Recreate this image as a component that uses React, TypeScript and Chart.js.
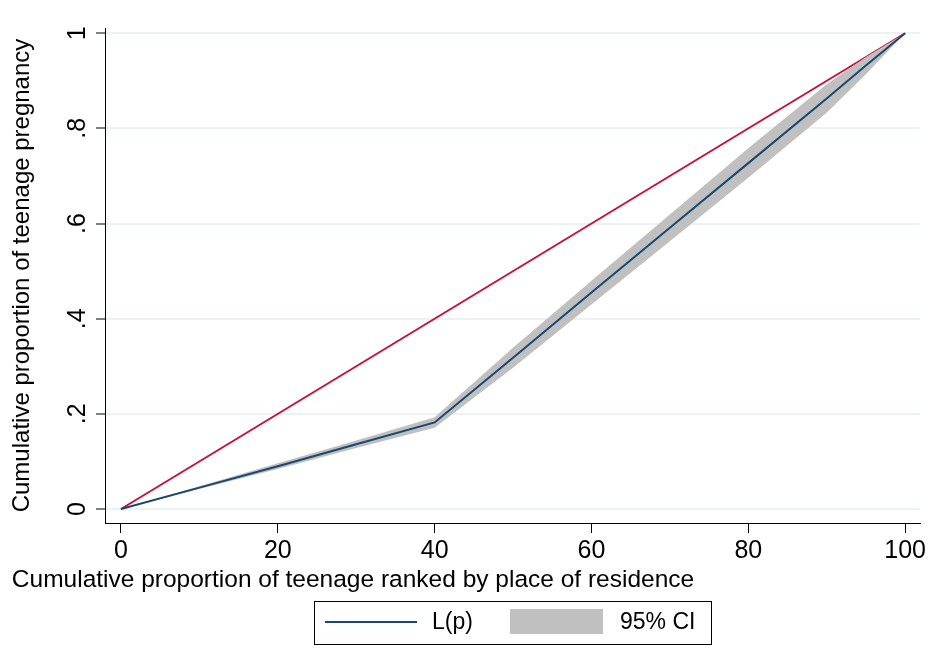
import React, { useEffect, useRef } from "react";
import { Chart, registerables } from "chart.js";

Chart.register(...registerables);

// ---- data ----
const pX = [0, 10, 20, 30, 40, 50, 60, 70, 80, 90, 95, 100];
const lpY = [0, 0.045, 0.09, 0.136, 0.182, 0.318, 0.455, 0.591, 0.727, 0.863, 0.932, 1];
const ciLow = [0, 0.042, 0.084, 0.128, 0.171, 0.297, 0.43, 0.563, 0.696, 0.833, 0.914, 1];
const ciHigh = [0, 0.048, 0.096, 0.144, 0.193, 0.339, 0.48, 0.619, 0.758, 0.893, 0.95, 1];
const eqX = [0, 100];
const eqY = [0, 1];
const xTicks = [0, 20, 40, 60, 80, 100];
const yTicks = [0, 0.2, 0.4, 0.6, 0.8, 1];
const yTickLabels = ["0", ".2", ".4", ".6", ".8", "1"];
const xTitle = "Cumulative proportion of teenage ranked by place of residence";
const yTitle = "Cumulative proportion of teenage pregnancy";
const legendLabels = ["L(p)", "95% CI"];

const NAVY = "#1a476f";
const RED = "#c8103c";
const GRAY = "#c0c0c0";
const GRID = "#eaf2f3";
const FONT = "'Liberation Sans', Arial, sans-serif";

const pts = (xs: number[], ys: number[]) => xs.map((x, i) => ({ x, y: ys[i] }));

const overlay = {
  id: "overlay",
  afterDraw(chart: any) {
    const ctx = chart.ctx as CanvasRenderingContext2D;
    const ys = chart.scales.y;
    const area = chart.chartArea;
    ctx.save();
    ctx.fillStyle = "#000";
    // y tick labels, rotated
    ctx.font = `25px ${FONT}`;
    ctx.textAlign = "center";
    ctx.textBaseline = "middle";
    yTicks.forEach((v, i) => {
      const py = ys.getPixelForValue(v);
      ctx.save();
      ctx.translate(77, py);
      ctx.rotate(-Math.PI / 2);
      ctx.fillText(yTickLabels[i], 0, 1);
      ctx.restore();
    });
    // y title
    ctx.font = `24px ${FONT}`;
    ctx.save();
    ctx.translate(22, (area.top + area.bottom) / 2);
    ctx.rotate(-Math.PI / 2);
    ctx.fillText(yTitle, 0, 0);
    ctx.restore();
    // x title
    ctx.font = `24.5px ${FONT}`;
    ctx.textBaseline = "alphabetic";
    ctx.fillText(xTitle, 353, 587);
    // legend
    const bx = 314.5, by = 601.5, bw = 397, bh = 43;
    ctx.fillStyle = "#fff";
    ctx.fillRect(bx, by, bw, bh);
    ctx.strokeStyle = "#000";
    ctx.lineWidth = 1;
    ctx.strokeRect(bx, by, bw, bh);
    ctx.strokeStyle = NAVY;
    ctx.lineWidth = 2;
    ctx.beginPath();
    ctx.moveTo(325, 622);
    ctx.lineTo(417, 622);
    ctx.stroke();
    ctx.fillStyle = GRAY;
    ctx.fillRect(510, 609, 93, 25);
    ctx.fillStyle = "#000";
    ctx.font = `23px ${FONT}`;
    ctx.textAlign = "left";
    ctx.textBaseline = "middle";
    ctx.fillText(legendLabels[0], 432, 623);
    ctx.fillText(legendLabels[1], 620, 623);
    ctx.restore();
  },
};

export default function App() {
  const ref = useRef<HTMLCanvasElement>(null);
  useEffect(() => {
    if (!ref.current) return;
    const chart = new Chart(ref.current, {
      type: "line",
      data: {
        datasets: [
          {
            label: "Equality",
            data: pts(eqX, eqY),
            borderColor: RED,
            borderWidth: 2,
            pointRadius: 0,
            fill: false,
            order: 4,
          },
          {
            label: "CI upper",
            data: pts(pX, ciHigh),
            borderWidth: 0,
            borderColor: "rgba(0,0,0,0)",
            backgroundColor: GRAY,
            pointRadius: 0,
            fill: "+1",
            order: 3,
          },
          {
            label: "CI lower",
            data: pts(pX, ciLow),
            borderWidth: 0,
            borderColor: "rgba(0,0,0,0)",
            pointRadius: 0,
            fill: false,
            order: 2,
          },
          {
            label: "L(p)",
            data: pts(pX, lpY),
            borderColor: NAVY,
            borderWidth: 2,
            pointRadius: 0,
            fill: false,
            order: 1,
          },
        ],
      },
      options: {
        animation: false,
        responsive: false,
        devicePixelRatio: 1,
        layout: { padding: { top: 28, right: 32, left: 0, bottom: 0 } },
        plugins: { legend: { display: false }, tooltip: { enabled: false } },
        scales: {
          x: {
            type: "linear",
            min: -2.04,
            max: 101.9,
            afterBuildTicks: (s: any) => {
              s.ticks = xTicks.map((v) => ({ value: v }));
            },
            afterFit: (s: any) => {
              s.height = 134;
            },
            grid: {
              drawOnChartArea: false,
              drawTicks: true,
              tickLength: 10,
              tickColor: "#000",
              tickWidth: 1,
            },
            border: { display: true, color: "#000", width: 1 },
            ticks: {
              color: "#000",
              font: { family: FONT, size: 25 },
              padding: 3,
              maxRotation: 0,
              autoSkip: false,
            },
          },
          y: {
            type: "linear",
            min: -0.0294,
            max: 1.011,
            afterBuildTicks: (s: any) => {
              s.ticks = yTicks.map((v) => ({ value: v }));
            },
            afterFit: (s: any) => {
              s.width = 105;
            },
            grid: {
              color: GRID,
              lineWidth: 2,
              drawTicks: true,
              tickLength: 9,
              tickColor: "#000",
              tickWidth: 1,
            },
            border: { display: true, color: "#000", width: 1 },
            ticks: { display: false },
          },
        },
      },
      plugins: [overlay],
    });
    return () => chart.destroy();
  }, []);
  return (
    <div style={{ position: "fixed", left: 0, top: 0, width: 952, height: 657, background: "#fff" }}>
      <canvas ref={ref} width={952} height={657} />
    </div>
  );
}
